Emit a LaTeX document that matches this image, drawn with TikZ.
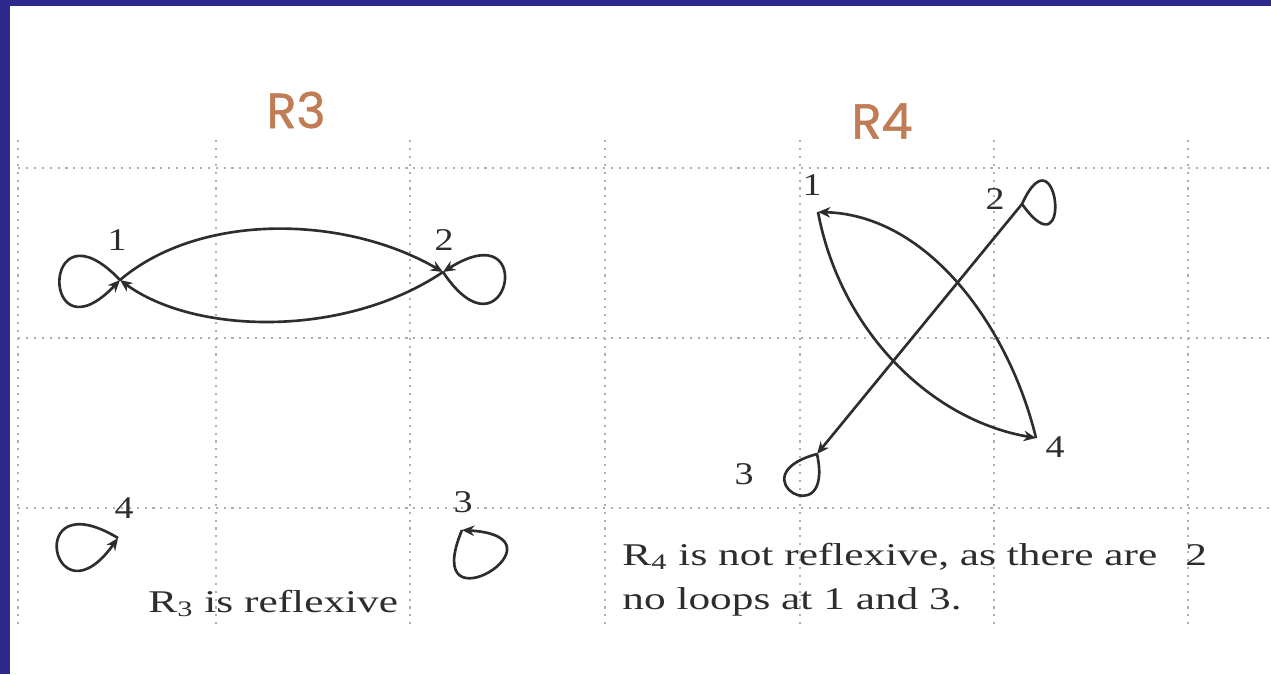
\documentclass[tikz,border=0pt]{standalone}
\usepackage{graphicx}
\usepackage{fontspec}
\setmainfont{Liberation Serif}
\newfontfamily\titlefont[FakeBold=1.2]{Poppins}
\usetikzlibrary{arrows.meta}
\definecolor{navy}{RGB}{44,40,140}
\definecolor{titlecol}{RGB}{192,124,84}
\definecolor{ink}{RGB}{45,45,45}
\definecolor{gridcol}{RGB}{175,175,175}
\begin{document}
\begin{tikzpicture}[x=0.02cm,y=-0.02cm,
  gridline/.style={draw=gridcol, line width=0.9pt, dash pattern=on 1.2pt off 3.3pt},
  rel/.style={draw=ink, line width=1.5pt},
  tip/.style={-{Stealth[length=7pt,width=6pt]}},
  title/.style={text=titlecol, font=\titlefont\fontsize{28}{30}\selectfont, inner sep=0pt},
  lbl/.style={font=\fontsize{18}{20}\selectfont, text=ink, inner sep=0pt},
  caption/.style={font=\fontsize{18}{20}\selectfont, text=ink, inner sep=0pt, anchor=base west},
]
\useasboundingbox (0,0) rectangle (1271,674);
\fill[white] (0,0) rectangle (1271,674);
\fill[navy] (0,0) rectangle (1271,6);
\fill[navy] (0,0) rectangle (10,674);

% grid
\foreach \gx in {18,216,410,605,800,994,1188}
  \draw[gridline] (\gx,140) -- (\gx,625);
\foreach \gy in {168,338,508}
  \draw[gridline] (18,\gy) -- (1271,\gy);

% titles
\node[title] (t3) at (296,110) {R3};
\node[title] (t4) at (882,121) {R4};

% ---- R3 ----
\coordinate (a1) at (120,280);
\coordinate (a2) at (443,272);
\coordinate (a3) at (462,530);
\coordinate (a4) at (118,538);
\node[lbl] (la1) at (117,240) {\scalebox{1.2}[1]{1}};
\node[lbl] (la2) at (444,240) {\scalebox{1.2}[1]{2}};
\node[lbl] (la3) at (463,502) {\scalebox{1.2}[1]{3}};
\node[lbl] (la4) at (124,508) {\scalebox{1.2}[1]{4}};

\draw[rel,tip] (a1) .. controls (200,212) and (345,215) .. (a2);
\draw[rel,tip] (a2) .. controls (345,338) and (195,335) .. (a1);
\draw[rel,tip] (a1) .. controls (40,196) and (40,364) .. (a1);
\draw[rel,tip] (a2) .. controls (507,368) and (540,211) .. (a2);
\draw[rel,tip] (a4) .. controls (22,480) and (53,629) .. (a4);
\draw[rel,tip] (a3) .. controls (418,635) and (576,537) .. (a3);

\node[caption] (c3) at (148,612) {\scalebox{1.37}[1]{R\textsubscript{3} is reflexive}};

% ---- R4 ----
\coordinate (b1) at (818,212);
\coordinate (b2) at (1022,204);
\coordinate (b3) at (817,454);
\coordinate (b4) at (1036,438);
\node[lbl] (lb1) at (812,185) {\scalebox{1.2}[1]{1}};
\node[lbl] (lb2) at (995,199) {\scalebox{1.2}[1]{2}};
\node[lbl] (lb3) at (744,474) {\scalebox{1.2}[1]{3}};
\node[lbl] (lb4) at (1055,447) {\scalebox{1.2}[1]{4}};

\draw[rel,tip] (b4) .. controls (1010,330) and (930,215) .. (b1);
\draw[rel,tip] (b1) .. controls (840,330) and (930,420) .. (b4);
\draw[rel,tip] (b2) -- (b3);
\draw[rel] (b2) .. controls (1058,125) and (1074,277) .. (b2);
\draw[rel] (b3) .. controls (835,536) and (735,476) .. (b3);

\node[caption] (c4a) at (622,565) {\scalebox{1.37}[1]{R\textsubscript{4} is not reflexive, as there are}};
\node[caption] (c4b) at (1185,565) {\scalebox{1.37}[1]{2}};
\node[caption] (c4c) at (622,609) {\scalebox{1.37}[1]{no loops at 1 and 3.}};
\end{tikzpicture}
\end{document}
